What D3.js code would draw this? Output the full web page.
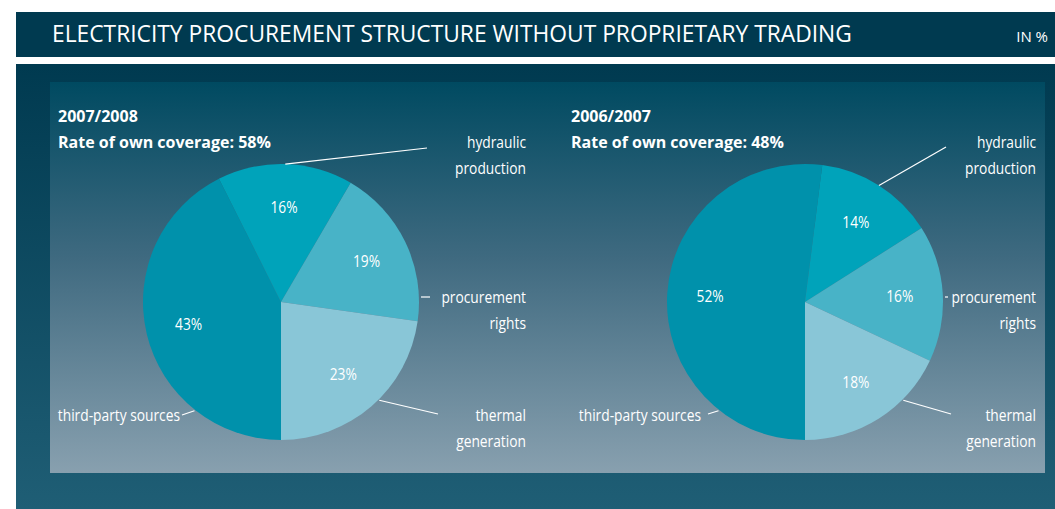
<!DOCTYPE html>
<html>
<head>
<meta charset="utf-8">
<script src="https://cdn.jsdelivr.net/npm/d3@7"></script>
<style>
  html, body { margin: 0; padding: 0; background: #ffffff; }
  svg { display: block; }
  text { font-family: "Open Sans", "Noto Sans", "DejaVu Sans", sans-serif; }
</style>
</head>
<body>
<svg id="chart" width="1055" height="509"></svg>
<script>
// Procurement categories, in drawing order clockwise from 6 o'clock
const categories = ["third-party sources", "hydraulic production", "procurement rights", "thermal generation"];
const years = ["2007/2008", "2006/2007"];
const coverage = ["58%", "48%"];
const values2008 = [43, 16, 19, 23];
const values2007 = [52, 14, 16, 18];
const sliceColors = ["#0091ab", "#00a3ba", "#48b3c7", "#89c6d7"];

const svg = d3.select("#chart");
const W = 1055, H = 509;

// narrow the label face so it reads like a condensed cut
const LABEL_SQUEEZE = 0.81;
function squeeze(sel, k) {
  sel.each(function () {
    const w = this.getComputedTextLength();
    d3.select(this).attr("textLength", w * k).attr("lengthAdjust", "spacingAndGlyphs");
  });
  return sel;
}

// ---- backgrounds ----
const defs = svg.append("defs");
const outerGrad = defs.append("linearGradient").attr("id", "outerGrad")
  .attr("x1", 0).attr("y1", 0).attr("x2", 0).attr("y2", 1);
outerGrad.append("stop").attr("offset", "0%").attr("stop-color", "#003a50");
outerGrad.append("stop").attr("offset", "100%").attr("stop-color", "#1f5e75");

const innerGrad = defs.append("linearGradient").attr("id", "innerGrad")
  .attr("x1", 0).attr("y1", 0).attr("x2", 0).attr("y2", 1);
innerGrad.append("stop").attr("offset", "0%").attr("stop-color", "#004a61");
innerGrad.append("stop").attr("offset", "45%").attr("stop-color", "#3f6a80");
innerGrad.append("stop").attr("offset", "100%").attr("stop-color", "#88a0af");

// title bar
svg.append("rect").attr("x", 16).attr("y", 12).attr("width", W - 16).attr("height", 45).attr("fill", "#003a50");
svg.append("text").attr("x", 52).attr("y", 42)
  .attr("fill", "#ffffff").attr("font-size", 22.8)
  .text("ELECTRICITY PROCUREMENT STRUCTURE WITHOUT PROPRIETARY TRADING");
svg.append("text").attr("x", 1048).attr("y", 42).attr("text-anchor", "end")
  .attr("fill", "#ffffff").attr("font-size", 15)
  .text("IN %");

// panels
svg.append("rect").attr("x", 16).attr("y", 64).attr("width", W - 16).attr("height", H - 64).attr("fill", "url(#outerGrad)");
svg.append("rect").attr("x", 50).attr("y", 82).attr("width", 995).attr("height", 391).attr("fill", "url(#innerGrad)");

// ---- pies ----
const pie = d3.pie().sort(null).startAngle(Math.PI).endAngle(3 * Math.PI);
const radius = 138;
const arc = d3.arc().innerRadius(0).outerRadius(radius);
const valueArc = d3.arc().innerRadius(95).outerRadius(95);

const panels = [
  { year: years[0], cov: coverage[0], values: values2008, cx: 281, tx: 58, labelRight: 526,
    hydEnd: [146, -154], procEnd: 149, thermEnd: [157, 112], thirdEnd: [-99, 113], thirdGap: 2 },
  { year: years[1], cov: coverage[1], values: values2007, cx: 805, tx: 571, labelRight: 1036,
    hydEnd: [141, -155], procEnd: 143, thermEnd: [146, 112], thirdEnd: [-97, 112], thirdGap: 7 }
];
const cy = 302;
const lineCol = "#ffffff";
const pointOn = (angle, r) => [Math.sin(angle) * r, -Math.cos(angle) * r];
const mid = d => (d.startAngle + d.endAngle) / 2;
const deg = a => a * Math.PI / 180;

panels.forEach(p => {
  // heading
  svg.append("text").attr("x", p.tx).attr("y", 122)
    .attr("fill", "#ffffff").attr("font-size", 16).attr("font-weight", "bold")
    .text(p.year);
  svg.append("text").attr("x", p.tx).attr("y", 148)
    .attr("fill", "#ffffff").attr("font-size", 16).attr("font-weight", "bold")
    .text("Rate of own coverage: " + p.cov);

  const g = svg.append("g").attr("transform", `translate(${p.cx},${cy})`);
  const arcs = pie(p.values);

  g.selectAll("path.slice").data(arcs).join("path")
    .attr("class", "slice")
    .attr("d", arc)
    .attr("fill", (d, i) => sliceColors[i]);

  // value labels inside slices
  squeeze(g.selectAll("text.val").data(arcs).join("text")
    .attr("class", "val")
    .attr("transform", d => `translate(${valueArc.centroid(d)})`)
    .attr("text-anchor", "middle").attr("dy", "0.35em")
    .attr("fill", "#ffffff").attr("font-size", 17)
    .text(d => d.data + "%"), LABEL_SQUEEZE);

  // leader lines
  const leader = (a, b) => g.append("line")
    .attr("x1", a[0]).attr("y1", a[1]).attr("x2", b[0]).attr("y2", b[1])
    .attr("stroke", lineCol).attr("stroke-width", 1.2);
  leader(pointOn(mid(arcs[1]), radius), p.hydEnd);
  leader([radius + 2, -5], [p.procEnd, -5]);
  leader(pointOn(deg(135), radius + 1), p.thermEnd);
  leader(pointOn(deg(218.5), radius + 1), p.thirdEnd);

  // category labels
  const label = (x, y, t) => squeeze(svg.append("text")
    .attr("x", x).attr("y", y).attr("text-anchor", "end")
    .attr("fill", "#ffffff").attr("font-size", 17)
    .text(t), LABEL_SQUEEZE);
  const rightLines = [
    { lines: ["hydraulic", "production"], y: 148 },
    { lines: ["procurement", "rights"], y: 303 },
    { lines: ["thermal", "generation"], y: 421 }
  ];
  rightLines.forEach(r => r.lines.forEach((t, k) => label(p.labelRight, r.y + k * 26, t)));
  label(p.cx + p.thirdEnd[0] - p.thirdGap, cy + 119, categories[0]);
});
</script>
</body>
</html>
